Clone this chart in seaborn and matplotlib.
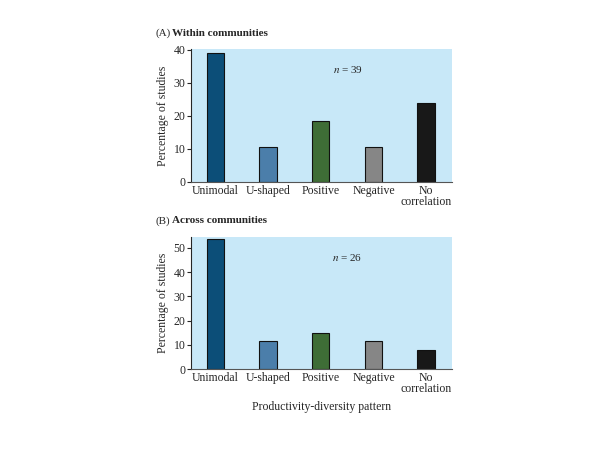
import seaborn as sns
import matplotlib.pyplot as plt
import pandas as pd

# categorias e percentuais
categorias = ['Unimodal', 'U-shaped', 'Positive', 'Negative', 'No\ncorrelation']
dentro = [39.0, 10.6, 18.4, 10.6, 23.8]
entre = [53.8, 11.7, 15.0, 11.7, 8.0]
cores = ['#0c4e78', '#4b7eaa', '#3e6d36', '#868686', '#181818']
fundo = '#c8e8f8'

sns.set_style('ticks')
plt.rcParams['font.family'] = ['Liberation Serif', 'DejaVu Serif']
plt.rcParams['mathtext.fontset'] = 'stix'

fig = plt.figure(figsize=(6, 4.5), dpi=100)
ax1 = fig.add_axes([191/600, 1-182/450, 261/600, 133/450])
ax2 = fig.add_axes([191/600, 1-369/450, 261/600, 132/450])


def painel(ax, valores, ymax, ticks, n_txt):
    df = pd.DataFrame({'cat': categorias, 'val': valores})
    sns.barplot(data=df, x='cat', y='val', hue='cat', palette=cores,
                legend=False, ax=ax, width=0.33, edgecolor='#111111',
                linewidth=0.8, saturation=1)
    ax.set_facecolor(fundo)
    ax.set_ylim(0, ymax)
    ax.set_xlim(-0.46, 4.49)
    ax.set_yticks(ticks)
    ax.set_xlabel('')
    ax.set_ylabel('Percentage of studies', fontsize=8.5, labelpad=3)
    ax.tick_params(axis='y', labelsize=8.5, length=3, width=0.8, pad=1)
    ax.tick_params(axis='x', labelsize=8.5, length=0, pad=2)
    for s in ['top', 'right']:
        ax.spines[s].set_visible(False)
    ax.spines['left'].set_linewidth(0.8)
    ax.spines['bottom'].set_linewidth(0.8)
    ax.spines['bottom'].set_color('#555555')
    for lab in ax.get_xticklabels():
        lab.set_linespacing(0.95)
    ax.text(0.6, 0.82, n_txt, transform=ax.transAxes, fontsize=8, ha='center')


painel(ax1, dentro, 40.3, [0, 10, 20, 30, 40], '$n$ = 39')
painel(ax2, entre, 54.5, [0, 10, 20, 30, 40, 50], '$n$ = 26')
ax2.set_xlabel('Productivity-diversity pattern', fontsize=8.5, labelpad=4)

fig.text(155/600, 1-33/450, '(A)', fontsize=8, va='center')
fig.text(172/600, 1-33/450, 'Within communities', fontsize=8, fontweight='bold', va='center')
fig.text(155/600, 1-221/450, '(B)', fontsize=8, va='center')
fig.text(172/600, 1-221/450, 'Across communities', fontsize=8, fontweight='bold', va='center')

fig.savefig('out.png', dpi=100, facecolor='white')
